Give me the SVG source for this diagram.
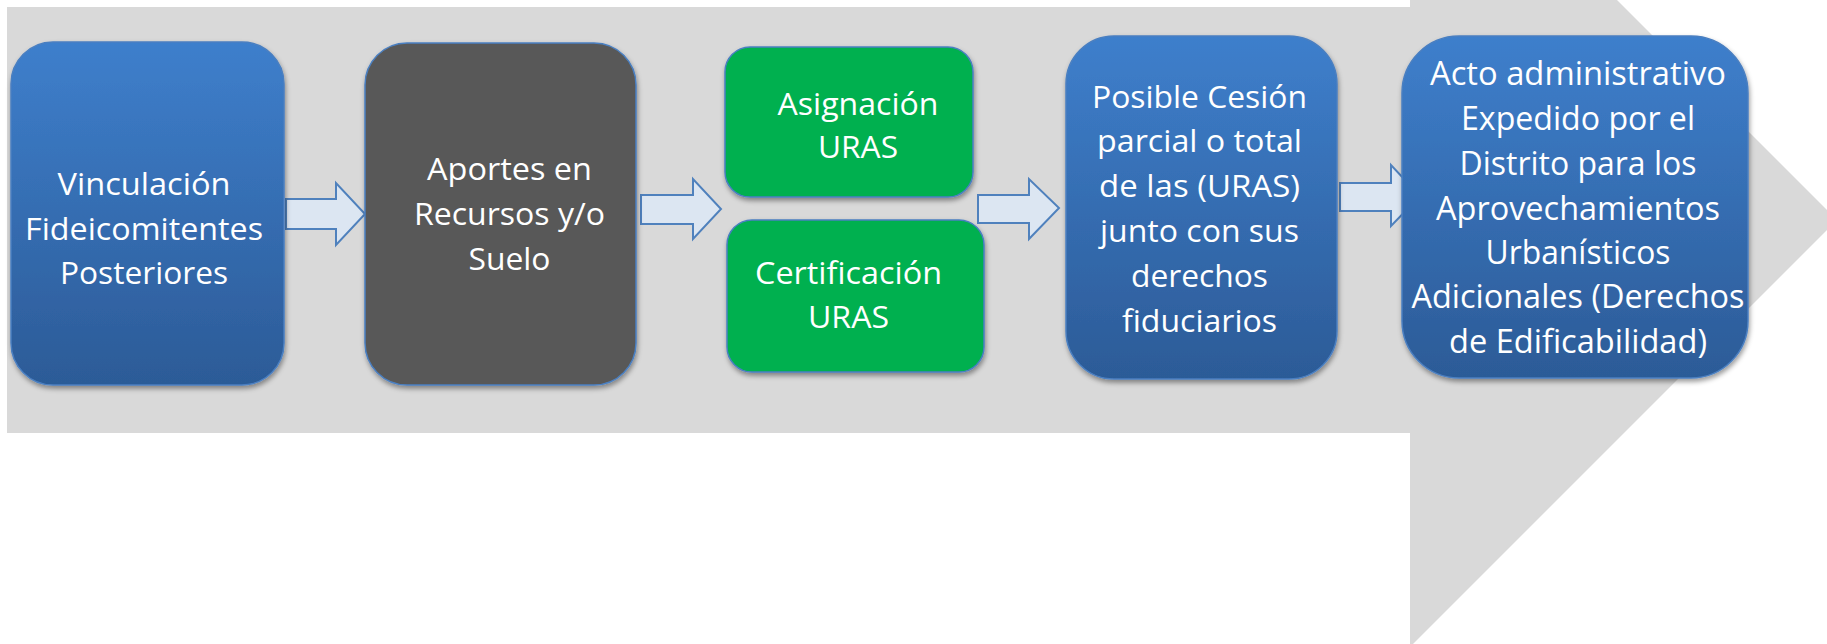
<svg xmlns="http://www.w3.org/2000/svg" width="1827" height="644" viewBox="0 0 1827 644">
<defs>
<linearGradient id="blueGrad" x1="0" y1="0" x2="0" y2="1">
<stop offset="0" stop-color="#3e7fcc"/>
<stop offset="1" stop-color="#2c5b97"/>
</linearGradient>
<filter id="shadow" x="-10%" y="-10%" width="120%" height="125%">
<feDropShadow dx="1" dy="3" stdDeviation="2.5" flood-color="#000" flood-opacity="0.4"/>
</filter>
</defs>
<style>
.bg{fill:#d9d9d9}
.blue{fill:url(#blueGrad);stroke:#4a7fc1;stroke-width:1.5;filter:url(#shadow)}
.dark{fill:#595959;stroke:#4a7fc1;stroke-width:1.5;filter:url(#shadow)}
.green{fill:#00b050;stroke:#4a7fc1;stroke-width:1.5;filter:url(#shadow)}
.conn{fill:#dce6f2;stroke:#4f81bd;stroke-width:2;stroke-linejoin:miter}
.t{fill:#ffffff;font-family:"Open Sans","Noto Sans",sans-serif;font-size:31px;text-anchor:middle}
.t5{fill:#ffffff;font-family:"Open Sans","Noto Sans",sans-serif;font-size:32.4px;text-anchor:middle}
</style>
<g id="background-arrow">
<polygon class="bg" points="7,7 1410,7 1410,-207 1837,220 1410,647 1410,433 7,433"/>
</g>
<g id="connectors">
<path class="conn" d="M286,199 H336 V183 L365,214 L336,245 V229 H286 Z"/>
<path class="conn" d="M641,195 H693 V179 L721,209 L693,239 V224 H641 Z"/>
<path class="conn" d="M978,195 H1029 V179 L1059,208 L1029,239 V223 H978 Z"/>
<path class="conn" d="M1340,183 H1391 V165 L1420,196 L1391,226 V211 H1340 Z"/>
</g>
<g id="node-vinculacion">
<rect class="blue" x="11" y="42" width="273" height="343" rx="42" ry="42"/>
<text class="t" x="144" y="195" textLength="173" lengthAdjust="spacingAndGlyphs">Vinculación</text>
<text class="t" x="144" y="240" textLength="238" lengthAdjust="spacingAndGlyphs">Fideicomitentes</text>
<text class="t" x="144" y="284" textLength="168" lengthAdjust="spacingAndGlyphs">Posteriores</text>
</g>
<g id="node-aportes">
<rect class="dark" x="365" y="43" width="271" height="342" rx="42" ry="42"/>
<text class="t" x="509.5" y="180" textLength="165" lengthAdjust="spacingAndGlyphs">Aportes en</text>
<text class="t" x="509.5" y="225" textLength="191" lengthAdjust="spacingAndGlyphs">Recursos y/o</text>
<text class="t" x="509.5" y="270" textLength="82" lengthAdjust="spacingAndGlyphs">Suelo</text>
</g>
<g id="node-asignacion">
<rect class="green" x="725" y="47" width="248" height="150" rx="25" ry="25"/>
<text class="t" x="858" y="115" textLength="161" lengthAdjust="spacingAndGlyphs">Asignación</text>
<text class="t" x="858" y="158" textLength="80" lengthAdjust="spacingAndGlyphs">URAS</text>
</g>
<g id="node-certificacion">
<rect class="green" x="727" y="220" width="257" height="152" rx="25" ry="25"/>
<text class="t" x="848.5" y="284" textLength="187" lengthAdjust="spacingAndGlyphs">Certificación</text>
<text class="t" x="848.5" y="328" textLength="81" lengthAdjust="spacingAndGlyphs">URAS</text>
</g>
<g id="node-cesion">
<rect class="blue" x="1066" y="36" width="271" height="343" rx="48" ry="48"/>
<text class="t" x="1199.5" y="108" textLength="215" lengthAdjust="spacingAndGlyphs">Posible Cesión</text>
<text class="t" x="1199.5" y="152" textLength="205" lengthAdjust="spacingAndGlyphs">parcial o total</text>
<text class="t" x="1199.5" y="197" textLength="201" lengthAdjust="spacingAndGlyphs">de las (URAS)</text>
<text class="t" x="1199.5" y="242" textLength="199" lengthAdjust="spacingAndGlyphs">junto con sus</text>
<text class="t" x="1199.5" y="287" textLength="137" lengthAdjust="spacingAndGlyphs">derechos</text>
<text class="t" x="1199.5" y="332" textLength="155" lengthAdjust="spacingAndGlyphs">fiduciarios</text>
</g>
<g id="node-acto">
<rect class="blue" x="1402" y="36" width="346" height="342" rx="57" ry="57"/>
<text class="t5" x="1578" y="85" textLength="296" lengthAdjust="spacingAndGlyphs">Acto administrativo</text>
<text class="t5" x="1578" y="130" textLength="234" lengthAdjust="spacingAndGlyphs">Expedido por el</text>
<text class="t5" x="1578" y="175" textLength="237" lengthAdjust="spacingAndGlyphs">Distrito para los</text>
<text class="t5" x="1578" y="220" textLength="284" lengthAdjust="spacingAndGlyphs">Aprovechamientos</text>
<text class="t5" x="1578" y="264" textLength="185" lengthAdjust="spacingAndGlyphs">Urbanísticos</text>
<text class="t5" x="1578" y="308" textLength="333" lengthAdjust="spacingAndGlyphs">Adicionales (Derechos</text>
<text class="t5" x="1578" y="353" textLength="258" lengthAdjust="spacingAndGlyphs">de Edificabilidad)</text>
</g>
</svg>
